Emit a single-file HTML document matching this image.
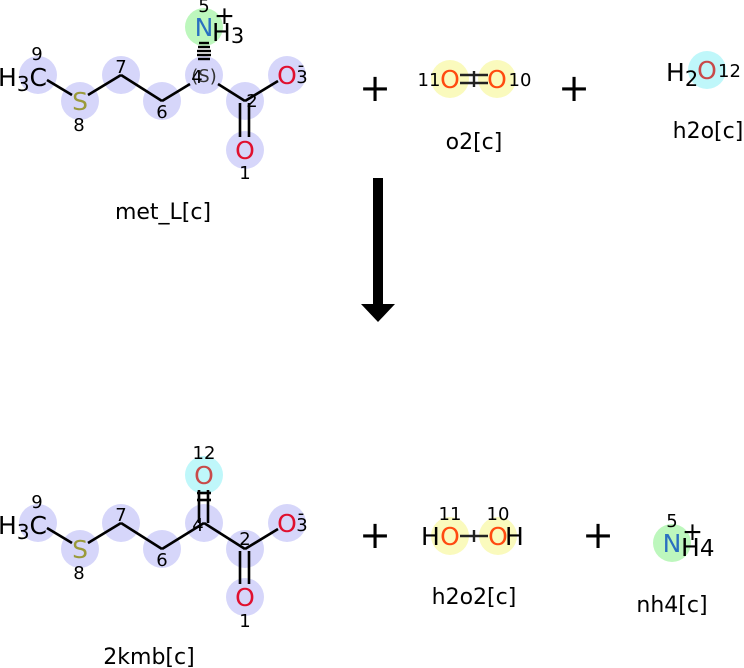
<!DOCTYPE html>
<html><head><style>html,body{margin:0;padding:0;background:#fff}svg{display:block}</style></head>
<body>
<svg width="744" height="668" viewBox="0 0 744 668" xmlns="http://www.w3.org/2000/svg" font-family="DejaVu Sans, Liberation Sans, sans-serif">
<rect width="744" height="668" fill="#fff"/>
<!-- TOP MOLECULE met_L -->
<g fill="#d6d6fa">
<circle cx="38" cy="75" r="19"/><circle cx="80" cy="101" r="19"/><circle cx="121" cy="75" r="19"/><circle cx="162" cy="101" r="19"/><circle cx="204" cy="75" r="19"/><circle cx="245" cy="101" r="19"/><circle cx="287" cy="75" r="19"/><circle cx="245" cy="150" r="19"/>
</g>
<circle cx="204" cy="27" r="19" fill="#bdf7bd"/>
<g stroke="#000" stroke-width="2.6" fill="none">
<line x1="47" y1="80" x2="72" y2="95"/><line x1="88" y1="95" x2="121" y2="75"/><line x1="121" y1="75" x2="162" y2="101"/><line x1="162" y1="101" x2="190" y2="84"/><line x1="218" y1="84" x2="245" y2="101"/><line x1="245" y1="101" x2="278" y2="81"/>
<line x1="240" y1="103" x2="240" y2="137"/><line x1="249" y1="103" x2="249" y2="137"/>
</g>
<g stroke="#000" stroke-width="2.4">
<line x1="199" y1="43" x2="209" y2="43"/><line x1="198" y1="47" x2="210" y2="47"/><line x1="197" y1="51" x2="211" y2="51"/><line x1="197" y1="55" x2="211" y2="55"/><line x1="198" y1="59" x2="210" y2="59"/>
</g>
<g font-size="25">
<text x="-2" y="86" fill="#000">H<tspan font-size="20" dy="5">3</tspan><tspan dy="-5">C</tspan></text>
<text x="80" y="110" fill="#9a9a3a" text-anchor="middle">S</text>
<text x="287" y="84" fill="#e0102f" text-anchor="middle">O</text>
<text x="245" y="159" fill="#e0102f" text-anchor="middle">O</text>
<text x="204" y="36" fill="#2a70c0" text-anchor="middle">N</text>
<text x="212" y="41" fill="#000">H<tspan font-size="21" dy="2">3</tspan></text>
<text x="214" y="24" fill="#000">+</text>
</g>
<g font-size="18" fill="#000" text-anchor="middle">
<text x="37" y="60">9</text><text x="79" y="131">8</text><text x="121" y="73">7</text><text x="162" y="118">6</text><text x="204" y="82" fill="#333">(S)</text><text x="197" y="83">4</text><text x="252" y="107">2</text><text x="302" y="83">3</text><text x="245" y="179">1</text><text x="204" y="12">5</text>
<text x="301" y="71">-</text>
</g>
<text x="163" y="219" font-size="22" text-anchor="middle">met_L[c]</text>

<!-- plus signs -->
<g font-size="38" text-anchor="middle"><text x="375" y="101">+</text><text x="574" y="101">+</text><text x="375" y="548">+</text><text x="598" y="548">+</text></g>

<!-- o2 -->
<circle cx="450" cy="79" r="19" fill="#fafabd"/><circle cx="497" cy="79" r="19" fill="#fafabd"/>
<g stroke="#222" stroke-width="2.4"><line x1="460" y1="75" x2="488" y2="75"/><line x1="460" y1="83" x2="488" y2="83"/><line x1="474" y1="71" x2="474" y2="87"/></g>
<g font-size="25" fill="#ff4a10" text-anchor="middle"><text x="450" y="88">O</text><text x="497" y="88">O</text></g>
<g font-size="18" text-anchor="middle"><text x="429" y="86">11</text><text x="520" y="86">10</text></g>
<text x="474" y="149" font-size="22" text-anchor="middle">o2[c]</text>

<!-- h2o -->
<circle cx="707" cy="70" r="19" fill="#bff7fa"/>
<text x="666" y="81" font-size="25">H<tspan font-size="21" dy="5">2</tspan></text>
<text x="707" y="79" font-size="25" fill="#c84a4a" text-anchor="middle">O</text>
<text x="718" y="77" font-size="18">12</text>
<text x="708" y="138" font-size="22" text-anchor="middle">h2o[c]</text>

<!-- arrow -->
<rect x="373" y="178" width="10" height="128" fill="#000"/>
<polygon points="361,304 395,304 378,322" fill="#000"/>

<!-- BOTTOM MOLECULE 2kmb -->
<g fill="#d6d6fa">
<circle cx="38" cy="523" r="19"/><circle cx="80" cy="549" r="19"/><circle cx="121" cy="523" r="19"/><circle cx="162" cy="549" r="19"/><circle cx="204" cy="523" r="19"/><circle cx="245" cy="549" r="19"/><circle cx="287" cy="523" r="19"/><circle cx="245" cy="597" r="19"/>
</g>
<circle cx="204" cy="475" r="19" fill="#bff7fa"/>
<g stroke="#000" stroke-width="2.6" fill="none">
<line x1="47" y1="528" x2="72" y2="543"/><line x1="88" y1="543" x2="121" y2="523"/><line x1="121" y1="523" x2="162" y2="549"/><line x1="162" y1="549" x2="204" y2="523"/><line x1="204" y1="523" x2="245" y2="549"/><line x1="245" y1="549" x2="278" y2="529"/>
<line x1="240" y1="551" x2="240" y2="584"/><line x1="249" y1="551" x2="249" y2="584"/>
<line x1="199" y1="490" x2="199" y2="523"/><line x1="208" y1="490" x2="208" y2="523"/>
<line x1="197" y1="493" x2="211" y2="493"/><line x1="197" y1="500" x2="211" y2="500"/>
</g>
<g font-size="25">
<text x="-2" y="534" fill="#000">H<tspan font-size="20" dy="5">3</tspan><tspan dy="-5">C</tspan></text>
<text x="80" y="558" fill="#9a9a3a" text-anchor="middle">S</text>
<text x="287" y="532" fill="#e0102f" text-anchor="middle">O</text>
<text x="245" y="606" fill="#e0102f" text-anchor="middle">O</text>
<text x="204" y="484" fill="#c84a4a" text-anchor="middle">O</text>
</g>
<g font-size="18" fill="#000" text-anchor="middle">
<text x="37" y="508">9</text><text x="79" y="579">8</text><text x="121" y="521">7</text><text x="162" y="566">6</text><text x="198" y="531">4</text><text x="245" y="545">2</text><text x="302" y="531">3</text><text x="245" y="627">1</text><text x="204" y="459">12</text>
<text x="301" y="519">-</text>
</g>
<text x="149" y="664" font-size="22" text-anchor="middle">2kmb[c]</text>

<!-- h2o2 -->
<circle cx="450" cy="536" r="19" fill="#fafabd"/><circle cx="498" cy="536" r="19" fill="#fafabd"/>
<g stroke="#222" stroke-width="2.4"><line x1="460" y1="536" x2="488" y2="536"/><line x1="474" y1="530" x2="474" y2="542"/></g>
<text x="421" y="545" font-size="25">H</text>
<text x="505" y="545" font-size="25">H</text>
<g font-size="25" fill="#ff4a10" text-anchor="middle"><text x="450" y="545">O</text><text x="498" y="545">O</text></g>
<g font-size="18" text-anchor="middle"><text x="450" y="520">11</text><text x="498" y="520">10</text></g>
<text x="474" y="604" font-size="22" text-anchor="middle">h2o2[c]</text>

<!-- nh4 -->
<circle cx="672" cy="543" r="19" fill="#bdf7bd"/>
<text x="672" y="552" font-size="25" fill="#2a70c0" text-anchor="middle">N</text>
<text x="681" y="556" font-size="25">H<tspan font-size="23">4</tspan></text>
<text x="682" y="540" font-size="25">+</text>
<text x="672" y="527" font-size="18" text-anchor="middle">5</text>
<text x="672" y="612" font-size="22" text-anchor="middle">nh4[c]</text>
</svg>
</body></html>
